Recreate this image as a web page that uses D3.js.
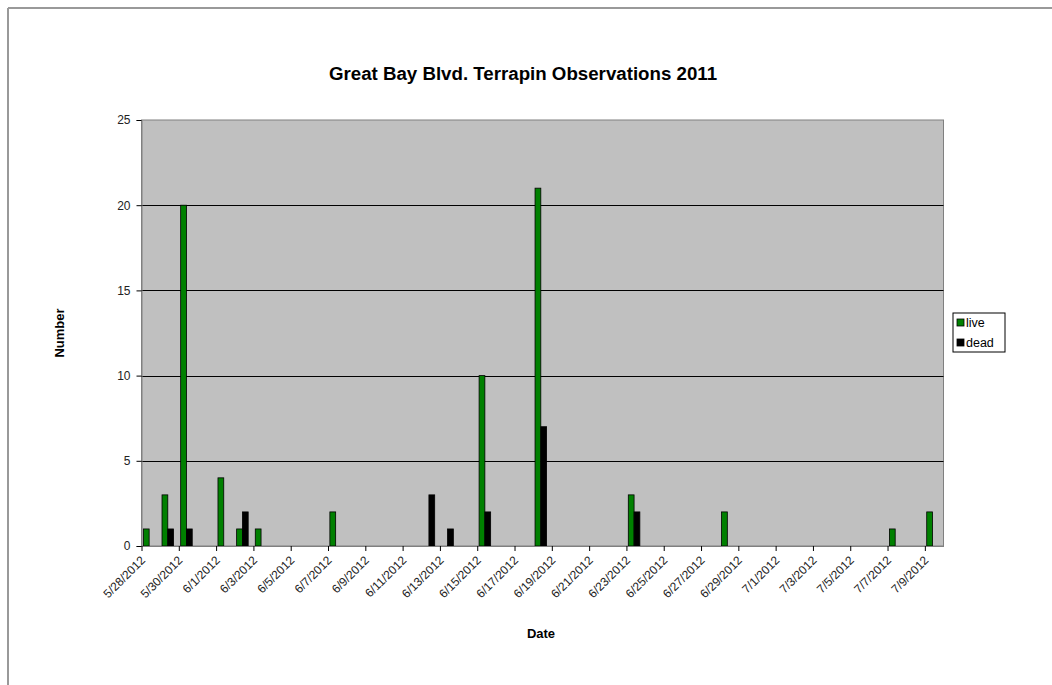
<!DOCTYPE html>
<html>
<head>
<meta charset="utf-8">
<script src="https://cdn.jsdelivr.net/npm/d3@7"></script>
<style>
  body { margin: 0; background: #fff; }
  svg { display: block; font-family: "Liberation Sans", Arial, sans-serif; }
</style>
</head>
<body>
<svg id="chart" width="1052" height="685"></svg>
<script>
// observation days (only days with a count)
const dates = ["5/28/2012", "5/29/2012", "5/30/2012", "6/1/2012", "6/2/2012", "6/3/2012", "6/7/2012",
    "6/12/2012", "6/13/2012", "6/15/2012", "6/18/2012", "6/23/2012", "6/28/2012", "7/7/2012", "7/9/2012"];
const live = [1, 3, 20, 4, 1, 1, 2, 0, 0, 10, 21, 3, 2, 1, 2];
const dead = [0, 1, 1, 0, 2, 0, 0, 3, 1, 2, 7, 2, 0, 0, 0];
const seriesNames = ["live", "dead"];
const seriesColors = ["#008000", "#000000"];
const yTicks = [0, 5, 10, 15, 20, 25];

const parse = d3.timeParse("%m/%d/%Y");
const fmt = d3.timeFormat("%-m/%-d/%Y");

const svg = d3.select("#chart");

// outer frame (top and left edges only)
svg.append("line").attr("x1", 8).attr("x2", 1052).attr("y1", 8).attr("y2", 8)
    .attr("stroke", "#999").attr("stroke-width", 2);
svg.append("line").attr("x1", 8).attr("x2", 8).attr("y1", 8).attr("y2", 685)
    .attr("stroke", "#999").attr("stroke-width", 2);

const plot = {left: 141.5, right: 943.5, top: 120, bottom: 546};

const start = parse("5/28/2012"), end = parse("7/10/2012");
const x = d3.scaleTime().domain([start, end]).range([plot.left, plot.right]);
const y = d3.scaleLinear().domain([0, 25]).range([plot.bottom, plot.top]);
const dayW = x(d3.timeDay.offset(start, 1)) - x(start);
const sub = d3.scaleBand().domain(seriesNames).range([dayW * 0.1, dayW * 0.72]);

// plot background
svg.append("rect")
    .attr("x", plot.left).attr("y", plot.top)
    .attr("width", plot.right - plot.left).attr("height", plot.bottom - plot.top)
    .attr("fill", "#c0c0c0").attr("stroke", "#808080").attr("stroke-width", 1);

// gridlines
svg.append("g").selectAll("line")
    .data(yTicks.filter(d => d > 0 && d < 25))
    .join("line")
    .attr("x1", plot.left).attr("x2", plot.right)
    .attr("y1", d => Math.round(y(d)) + 0.5).attr("y2", d => Math.round(y(d)) + 0.5)
    .attr("stroke", "#000").attr("stroke-width", 1);

// bars
const rows = dates.map((d, i) => ({date: parse(d), live: live[i], dead: dead[i]}));
seriesNames.forEach((s, si) => {
    svg.append("g").selectAll("rect")
        .data(rows.filter(r => r[s] > 0))
        .join("rect")
        .attr("x", r => x(r.date) + sub(s))
        .attr("width", sub.bandwidth())
        .attr("y", r => y(r[s]))
        .attr("height", r => y(0) - y(r[s]))
        .attr("fill", seriesColors[si])
        .attr("stroke", "#000").attr("stroke-width", 0.8);
});

// y axis
const yAxis = svg.append("g")
    .attr("transform", `translate(${plot.left},0)`)
    .call(d3.axisLeft(y).tickValues(yTicks).tickSize(5).tickPadding(6));
yAxis.select(".domain").attr("stroke", "#808080");
yAxis.selectAll(".tick line").attr("stroke", "#000");
yAxis.selectAll("text").attr("font-size", 12).attr("fill", "#222")
    .attr("font-family", "Liberation Sans, Arial, sans-serif");

// x axis
const xTicks = d3.timeDay.range(start, end, 2);
const xAxis = svg.append("g")
    .attr("transform", `translate(0,${plot.bottom})`)
    .call(d3.axisBottom(x).tickValues(xTicks).tickFormat(fmt).tickSize(5).tickSizeOuter(0));
xAxis.select(".domain").attr("stroke", "#808080");
xAxis.selectAll(".tick line").attr("stroke", "#000");
xAxis.selectAll("text")
    .attr("font-size", 12).attr("fill", "#222")
    .attr("font-family", "Liberation Sans, Arial, sans-serif")
    .attr("text-anchor", "end")
    .attr("dy", null)
    .attr("y", 0)
    .attr("transform", "translate(4,15) rotate(-45)");

// titles
svg.append("text").attr("x", 523).attr("y", 80)
    .attr("text-anchor", "middle").attr("font-size", 18.7).attr("font-weight", "bold")
    .text("Great Bay Blvd. Terrapin Observations 2011");
svg.append("text").attr("x", 541).attr("y", 638)
    .attr("text-anchor", "middle").attr("font-size", 13).attr("font-weight", "bold")
    .text("Date");
svg.append("text")
    .attr("transform", "translate(64,333) rotate(-90)")
    .attr("text-anchor", "middle").attr("font-size", 13).attr("font-weight", "bold")
    .text("Number");

// legend
const legend = svg.append("g").attr("transform", "translate(953,313)");
legend.append("rect").attr("width", 52).attr("height", 39)
    .attr("fill", "#fff").attr("stroke", "#000").attr("stroke-width", 1);
seriesNames.forEach((s, i) => {
    legend.append("rect").attr("x", 4).attr("y", 6 + i * 20).attr("width", 7).attr("height", 7)
        .attr("fill", seriesColors[i]).attr("stroke", "#000").attr("stroke-width", 0.8);
    legend.append("text").attr("x", 13).attr("y", 14 + i * 20)
        .attr("font-size", 12.5).text(s);
});
</script>
</body>
</html>
